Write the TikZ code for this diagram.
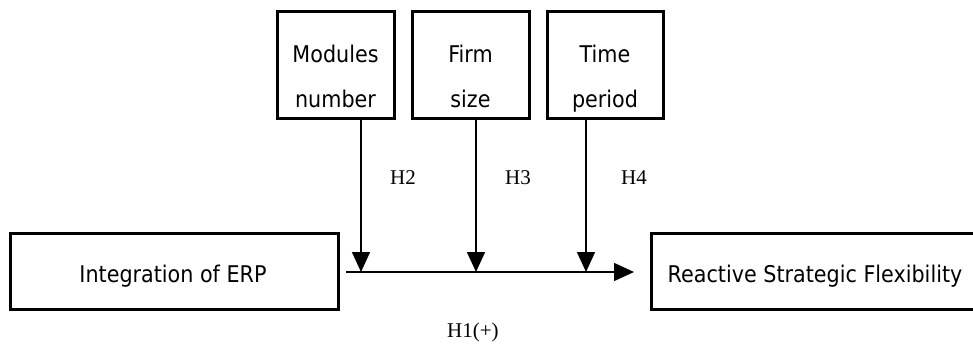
\documentclass[tikz,border=0pt]{standalone}
\usepackage{fontspec}
\setmainfont{DejaVu Sans}[FakeStretch=0.9]
\newfontfamily\hfont{Liberation Serif}
\usetikzlibrary{arrows.meta}
\tikzset{
  boxstyle/.style={draw=black,line width=3pt,fill=none},
  conn/.style={line width=1.5pt,-{Triangle[length=20pt,width=18pt]}},
  boxtext/.style={font=\fontsize{23}{23}\selectfont,inner sep=0pt,anchor=base},
  hlabel/.style={font=\hfont\fontsize{21}{21}\selectfont,inner sep=0pt,anchor=base west},
}
\begin{document}
\begin{tikzpicture}[x=1pt,y=-1pt]
\useasboundingbox (0,0) rectangle (973,343);
\clip (0,0) rectangle (973,343);
% top moderator boxes
\draw[boxstyle] (277,11) rectangle (394,118);
\draw[boxstyle] (412,11) rectangle (529,118);
\draw[boxstyle] (547,11) rectangle (663,118);
\node[boxtext] (m1) at (335.5,62) {Modules};
\node[boxtext] (m2) at (335.5,107) {number};
\node[boxtext] (f1) at (470.5,62) {Firm};
\node[boxtext] (f2) at (470.5,107) {size};
\node[boxtext] (t1) at (605,62) {Time};
\node[boxtext] (t2) at (605,107) {period};
% main boxes
\draw[boxstyle] (10,233) rectangle (338,309);
\draw[boxstyle] (651,233) rectangle (990,309);
\node[boxtext] (ierp) at (173,282) {Integration of ERP};
\node[boxtext] (rsf) at (815,282) {Reactive Strategic Flexibility};
% connector coordinates
\coordinate (a0) at (346,272);
\coordinate (a1) at (634,272);
\coordinate (m) at (361,119.5);
\coordinate (mt) at (361,272);
\coordinate (f) at (476,119.5);
\coordinate (ft) at (476,272);
\coordinate (t) at (586,119.5);
\coordinate (tt) at (586,272);
\draw[conn] (a0) -- (a1);
\draw[conn] (m) -- (mt);
\draw[conn] (f) -- (ft);
\draw[conn] (t) -- (tt);
% labels
\node[hlabel] (h2) at (390,184) {H2};
\node[hlabel] (h3) at (505,184) {H3};
\node[hlabel] (h4) at (621,184) {H4};
\node[hlabel] (h1) at (447,337) {H1(+)};
\end{tikzpicture}
\end{document}
